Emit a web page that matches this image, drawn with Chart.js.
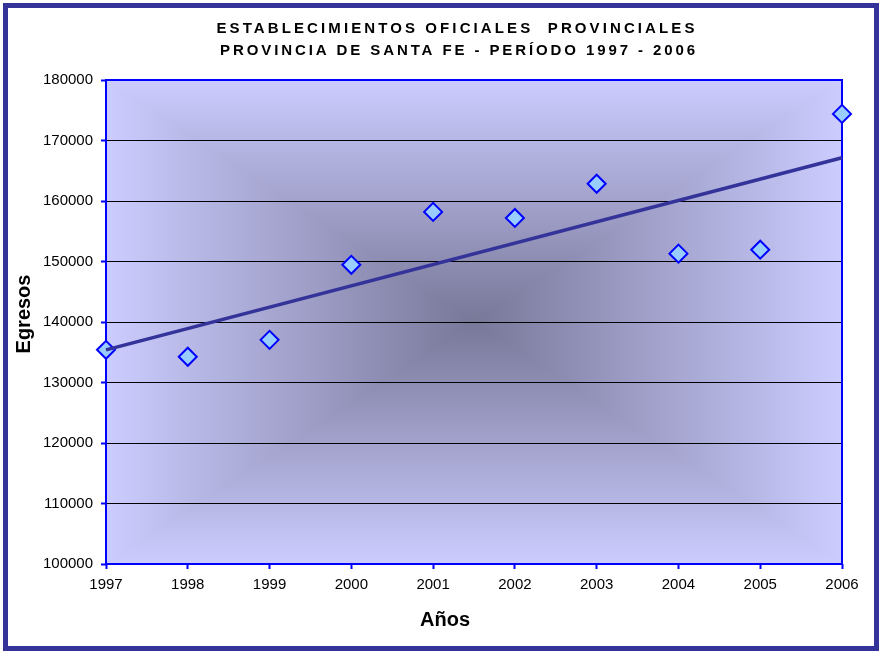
<!DOCTYPE html>
<html><head><meta charset="utf-8">
<script src="https://cdn.jsdelivr.net/npm/chart.js@4"></script>
<style>html,body{margin:0;padding:0;background:#fff}canvas{display:block}</style>
</head><body>
<canvas id="c" width="882" height="654"></canvas>
<script>
const titleLines = ['ESTABLECIMIENTOS OFICIALES  PROVINCIALES', 'PROVINCIA DE SANTA FE - PERÍODO 1997 - 2006'];
const xAxisTitle = 'Años';
const yAxisTitle = 'Egresos';
const years = [1997, 1998, 1999, 2000, 2001, 2002, 2003, 2004, 2005, 2006];
const egresos = [135400, 134250, 137050, 149450, 158200, 157200, 162850, 151300, 151950, 174400];
const trendYears = [1997, 2006];
const trendValues = [135400, 167150];
const yMin = 100000, yMax = 180000, yStep = 10000;

const FONT = '"Liberation Sans", Arial, sans-serif';

const decor = {
  id: 'decor',
  beforeDraw(chart) {
    const ctx = chart.ctx, a = chart.chartArea;
    ctx.save();
    ctx.fillStyle = '#ffffff';
    ctx.fillRect(0, 0, chart.width, chart.height);
    const l = Math.round(a.left), t = Math.round(a.top);
    const w = Math.round(a.right) - l, h = Math.round(a.bottom) - t;
    const edge = [204, 204, 255], center = [120, 120, 153];
    const img = ctx.createImageData(w, h);
    const hw = w / 2, hh = h / 2;
    for (let j = 0; j < h; j++) {
      const dy = Math.abs(j + 0.5 - hh) / hh;
      for (let i = 0; i < w; i++) {
        const dx = Math.abs(i + 0.5 - hw) / hw;
        const f = Math.max(dx, dy);
        const k = (j * w + i) * 4;
        img.data[k] = center[0] + (edge[0] - center[0]) * f;
        img.data[k + 1] = center[1] + (edge[1] - center[1]) * f;
        img.data[k + 2] = center[2] + (edge[2] - center[2]) * f;
        img.data[k + 3] = 255;
      }
    }
    ctx.putImageData(img, l, t);
    ctx.restore();
  },
  beforeDatasetsDraw(chart) {
    const ctx = chart.ctx, a = chart.chartArea;
    ctx.save();
    ctx.strokeStyle = '#0000FF';
    ctx.lineWidth = 2;
    ctx.strokeRect(a.left, a.top, a.right - a.left, a.bottom - a.top);
    ctx.restore();
  },
  afterDraw(chart) {
    const ctx = chart.ctx;
    ctx.save();
    ctx.strokeStyle = '#333399';
    ctx.lineWidth = 5;
    ctx.strokeRect(5.5, 5.5, chart.width - 11, chart.height - 11);
    ctx.fillStyle = '#000';
    ctx.font = 'bold 15px ' + FONT;
    ctx.textAlign = 'center';
    ctx.textBaseline = 'alphabetic';
    ctx.letterSpacing = '3.1px';
    ctx.fillText(titleLines[0], 457, 33);
    ctx.letterSpacing = '2.9px';
    ctx.fillText(titleLines[1], 459, 55);
    ctx.letterSpacing = '0px';
    ctx.font = 'bold 20px ' + FONT;
    ctx.fillText(xAxisTitle, 445, 626);
    ctx.translate(30, 314);
    ctx.rotate(-Math.PI / 2);
    ctx.fillText(yAxisTitle, 0, 0);
    ctx.restore();
  }
};

new Chart(document.getElementById('c'), {
  type: 'scatter',
  data: {
    datasets: [
      {
        type: 'line',
        data: trendYears.map((x, i) => ({ x, y: trendValues[i] })),
        borderColor: '#333399',
        borderWidth: 3.5,
        pointRadius: 0,
        fill: false,
        order: 0,
        clip: false
      },
      {
        data: years.map((x, i) => ({ x, y: egresos[i] })),
        pointStyle: 'rectRot',
        pointRadius: 9,
        pointHoverRadius: 9,
        backgroundColor: '#99CCFF',
        borderColor: '#0000FF',
        borderWidth: 2,
        order: 1,
        clip: false
      }
    ]
  },
  options: {
    responsive: false,
    animation: false,
    devicePixelRatio: 1,
    layout: { padding: { top: 80, right: 40, bottom: 0, left: 0 } },
    plugins: { legend: { display: false }, tooltip: { enabled: false }, title: { display: false } },
    scales: {
      x: {
        type: 'linear',
        min: years[0], max: years[years.length - 1],
        afterFit(s) { s.height = 90; },
        border: { display: false },
        grid: { drawOnChartArea: false, tickLength: 5, tickColor: '#0000FF', tickWidth: 2 },
        ticks: { stepSize: 1, padding: 7, color: '#000', font: { family: FONT, size: 15 }, callback: v => String(v) }
      },
      y: {
        min: yMin, max: yMax,
        afterFit(s) { s.width = 106; },
        border: { display: false },
        grid: { color: '#000000', lineWidth: 1, tickLength: 5, tickColor: '#0000FF', tickWidth: 2 },
        ticks: { stepSize: yStep, padding: 8, color: '#000', font: { family: FONT, size: 15 }, callback: v => String(v) }
      }
    }
  },
  plugins: [decor]
});
</script>
</body></html>
